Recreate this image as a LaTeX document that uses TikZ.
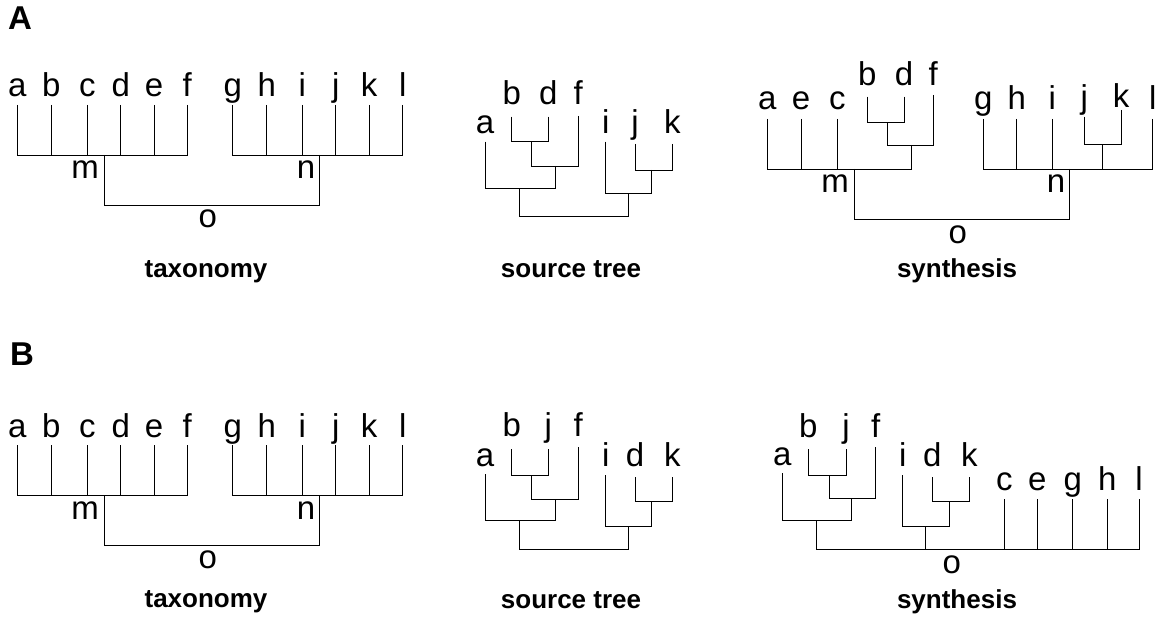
\documentclass[tikz,border=0pt]{standalone}
\usepackage{fontspec}
\setmainfont{Liberation Sans}
\begin{document}
\begin{tikzpicture}[x=1pt,y=-1pt,
  leaf/.style={font=\fontsize{33}{33}\selectfont, inner sep=0pt, anchor=base},
  caption/.style={font=\fontsize{26}{26}\selectfont\bfseries, inner sep=0pt, anchor=base},
  panel/.style={font=\fontsize{33}{33}\selectfont\bfseries, inner sep=0pt, anchor=base west},
  edge/.style={draw=black, line width=0.9pt}]
\useasboundingbox (0,0) rectangle (1156,617);

% ---------------- panel letters ----------------
\node[panel] (pA) at (8,30) {A};
\node[panel] (pB) at (10,365) {B};

% ---------------- taxonomy (A and B) ----------------
\foreach \P/\dy in {TA/0,TB/340}{
  \foreach \n/\x in {a/17.3,b/51.3,c/87.3,d/120.7,e/154,f/187.3,g/232.7,h/266.7,i/302.3,j/335.7,k/369,l/402.7}{
    \node[leaf] (\P-\n) at (\x,{97+\dy}) {\n};
    \coordinate (\P-\n-t) at (\x,{105+\dy});
  }
  \coordinate (\P-m) at (104,{155+\dy});
  \coordinate (\P-n) at (319.3,{155+\dy});
  \coordinate (\P-o) at (211.7,{205+\dy});
  \foreach \n in {a,b,c,d,e,f}{\draw[edge] (\P-\n-t) |- (\P-m);}
  \foreach \n in {g,h,i,j,k,l}{\draw[edge] (\P-\n-t) |- (\P-n);}
  \draw[edge] (\P-m) |- (\P-o);
  \draw[edge] (\P-n) |- (\P-o);
  \node[leaf] (\P-ml) at (85,{179+\dy}) {m};
  \node[leaf] (\P-nl) at (306,{179+\dy}) {n};
  \node[leaf] (\P-ol) at (207.7,{228+\dy}) {o};
  \node[caption] (\P-cap) at (206,{278+\dy*0.97}) {taxonomy};
}

% ---------------- source tree A ----------------
\foreach \n/\x/\yb/\yt in {a/485/134/141.7,b/511.7/105/116.7,d/548.3/105/116.7,f/578.3/105/116,i/605.7/134/141.7,j/635/134/144,k/672.3/134/144}{
  \node[leaf] (SA-\n) at (\x,\yb) {\n};
  \coordinate (SA-\n-t) at (\x,\yt);
}
\coordinate (SA-bd) at (531.7,141.7);
\coordinate (SA-bdf) at (555.7,166);
\coordinate (SA-abdf) at (519.3,188.3);
\coordinate (SA-jk) at (651.7,170);
\coordinate (SA-ijk) at (628.3,193.3);
\coordinate (SA-r) at (573.8,216.7);
\draw[edge] (SA-b-t) |- (SA-bd);
\draw[edge] (SA-d-t) |- (SA-bd);
\draw[edge] (SA-bd) |- (SA-bdf);
\draw[edge] (SA-f-t) |- (SA-bdf);
\draw[edge] (SA-a-t) |- (SA-abdf);
\draw[edge] (SA-bdf) |- (SA-abdf);
\draw[edge] (SA-j-t) |- (SA-jk);
\draw[edge] (SA-k-t) |- (SA-jk);
\draw[edge] (SA-i-t) |- (SA-ijk);
\draw[edge] (SA-jk) |- (SA-ijk);
\draw[edge] (SA-abdf) |- (SA-r);
\draw[edge] (SA-ijk) |- (SA-r);
\node[caption] (SA-cap) at (571,278) {source tree};

% ---------------- source tree B ----------------
\foreach \n/\x/\yb/\yt in {a/485/466/474,b/511.7/436.7/449.3,j/548.3/436.7/449.3,f/578.3/436.7/447,i/605.7/466/475,d/635/466.7/477.3,k/672.3/466.7/477.3}{
  \node[leaf] (SB-\n) at (\x,\yb) {\n};
  \coordinate (SB-\n-t) at (\x,\yt);
}
\coordinate (SB-bj) at (531.7,475);
\coordinate (SB-bjf) at (555.7,499);
\coordinate (SB-abjf) at (519.3,520.7);
\coordinate (SB-dk) at (651.7,501.7);
\coordinate (SB-idk) at (628.3,526);
\coordinate (SB-r) at (573.8,549.3);
\draw[edge] (SB-b-t) |- (SB-bj);
\draw[edge] (SB-j-t) |- (SB-bj);
\draw[edge] (SB-bj) |- (SB-bjf);
\draw[edge] (SB-f-t) |- (SB-bjf);
\draw[edge] (SB-a-t) |- (SB-abjf);
\draw[edge] (SB-bjf) |- (SB-abjf);
\draw[edge] (SB-d-t) |- (SB-dk);
\draw[edge] (SB-k-t) |- (SB-dk);
\draw[edge] (SB-i-t) |- (SB-idk);
\draw[edge] (SB-dk) |- (SB-idk);
\draw[edge] (SB-abjf) |- (SB-r);
\draw[edge] (SB-idk) |- (SB-r);
\node[caption] (SB-cap) at (571,608) {source tree};

% ---------------- synthesis A ----------------
\foreach \n/\x/\yb/\yt in {a/767.3/110/119,e/801/110/119,c/837.3/110/119,b/867.3/85.7/96.7,d/904/85.7/96.7,f/933.3/85.7/95,g/983.3/110/119,h/1016.7/110/119,i/1052.3/110/119,j/1084.3/108.3/116.7,k/1121/107.5/110}{
  \node[leaf] (YA-\n) at (\x,\yb) {\n};
  \coordinate (YA-\n-t) at (\x,\yt);
}
\node[leaf] (YA-l) at (1152.7,110) {l};
\coordinate (YA-l-t) at (1152.7,119);
\coordinate (YA-bd) at (887.3,122.7);
\coordinate (YA-bdf) at (911.7,145);
\coordinate (YA-m) at (854,169);
\coordinate (YA-jk) at (1102.3,144.3);
\coordinate (YA-n) at (1069.3,169);
\coordinate (YA-o) at (961.7,219.3);
\draw[edge] (YA-b-t) |- (YA-bd);
\draw[edge] (YA-d-t) |- (YA-bd);
\draw[edge] (YA-bd) |- (YA-bdf);
\draw[edge] (YA-f-t) |- (YA-bdf);
\foreach \n in {a,e,c}{\draw[edge] (YA-\n-t) |- (YA-m);}
\draw[edge] (YA-bdf) |- (YA-m);
\draw[edge] (YA-j-t) |- (YA-jk);
\draw[edge] (YA-k-t) |- (YA-jk);
\foreach \n in {g,h,i,l}{\draw[edge] (YA-\n-t) |- (YA-n);}
\draw[edge] (YA-jk) |- (YA-n);
\draw[edge] (YA-m) |- (YA-o);
\draw[edge] (YA-n) |- (YA-o);
\node[leaf] (YA-ml) at (835,192.7) {m};
\node[leaf] (YA-nl) at (1056,192.7) {n};
\node[leaf] (YA-ol) at (957.7,243.3) {o};
\node[caption] (YA-cap) at (957,278) {synthesis};

% ---------------- synthesis B ----------------
\foreach \n/\x/\yb/\yt in {a/782.3/465/473.3,b/808.3/437.3/449.3,j/846/437.3/449.3,f/875.7/437.3/447.3,i/902.7/466/475,d/932.3/466.7/477.3,k/969.3/466.7/477.3,c/1004.3/490.7/499.3,e/1037.3/490.7/499.3,g/1072.7/490.7/499.3,h/1107.3/490.7/499.3,l/1139/490.7/499.3}{
  \node[leaf] (YB-\n) at (\x,\yb) {\n};
  \coordinate (YB-\n-t) at (\x,\yt);
}
\coordinate (YB-bj) at (829,475.7);
\coordinate (YB-bjf) at (851.7,498.3);
\coordinate (YB-abjf) at (816,520.7);
\coordinate (YB-dk) at (949.3,501.7);
\coordinate (YB-idk) at (925.7,526);
\coordinate (YB-o) at (977.5,549.3);
\draw[edge] (YB-b-t) |- (YB-bj);
\draw[edge] (YB-j-t) |- (YB-bj);
\draw[edge] (YB-bj) |- (YB-bjf);
\draw[edge] (YB-f-t) |- (YB-bjf);
\draw[edge] (YB-a-t) |- (YB-abjf);
\draw[edge] (YB-bjf) |- (YB-abjf);
\draw[edge] (YB-d-t) |- (YB-dk);
\draw[edge] (YB-k-t) |- (YB-dk);
\draw[edge] (YB-i-t) |- (YB-idk);
\draw[edge] (YB-dk) |- (YB-idk);
\draw[edge] (YB-abjf) |- (YB-o);
\draw[edge] (YB-idk) |- (YB-o);
\foreach \n in {c,e,g,h,l}{\draw[edge] (YB-\n-t) |- (YB-o);}
\node[leaf] (YB-ol) at (951.7,573.3) {o};
\node[caption] (YB-cap) at (957,608) {synthesis};
\end{tikzpicture}
\end{document}
